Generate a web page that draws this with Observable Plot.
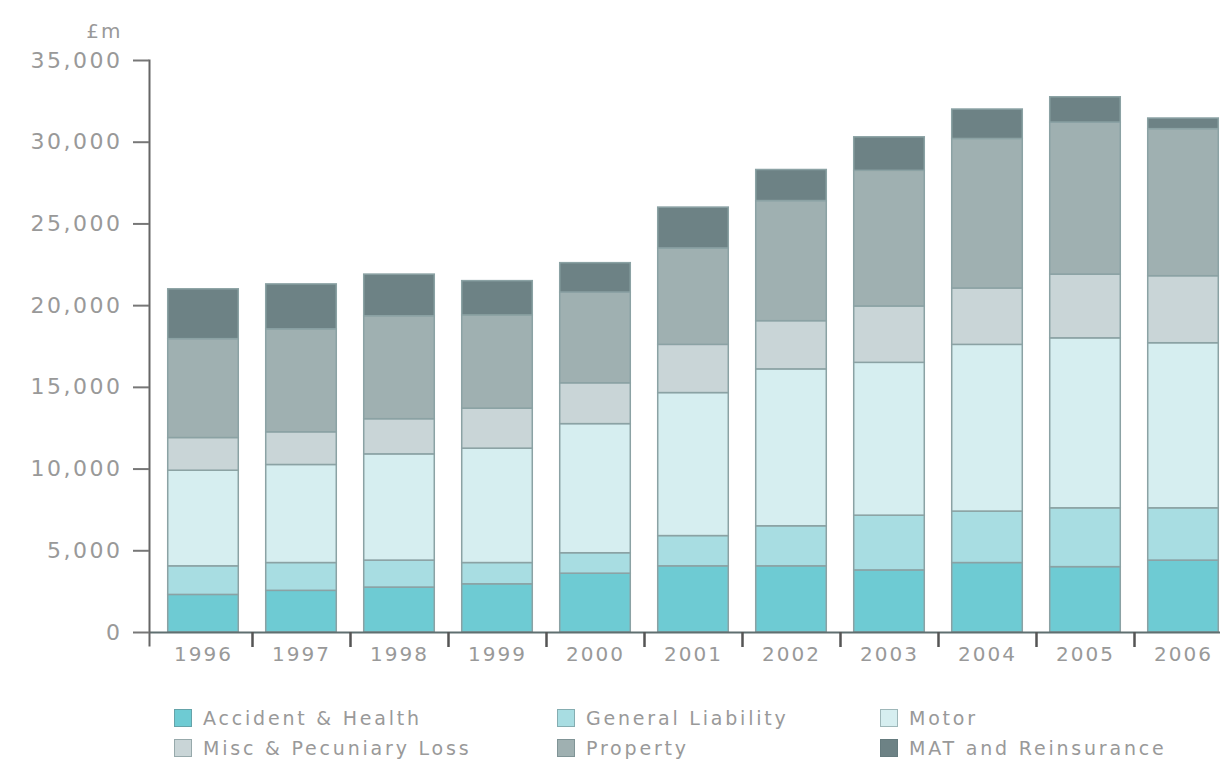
<!DOCTYPE html>
<html>
<head>
<meta charset="utf-8">
<script src="https://cdn.jsdelivr.net/npm/d3@7"></script>
<script src="https://cdn.jsdelivr.net/npm/@observablehq/plot@0.6"></script>
<style>
  html, body { margin: 0; padding: 0; background: #fff; overflow: hidden; }
  #wrap { position: relative; width: 1220px; height: 763px; }
  #wrap svg { position: absolute; left: 0; top: 0; }
  [aria-label="y-axis tick label"] text { letter-spacing: 2.5px; }
  [aria-label="x-axis tick label"] text { letter-spacing: 2px; }
  .unit text { letter-spacing: 2px; }
  .legend { position: absolute; left: 0; top: 0; width: 1220px; height: 763px; pointer-events: none;
            font-family: "DejaVu Sans", sans-serif; font-size: 19px; color: #999; letter-spacing: 2.8px; font-weight: 400; }
  .item { position: absolute; display: flex; align-items: center; height: 22px; white-space: nowrap; }
  .sw { width: 18px; height: 18px; box-sizing: border-box; border: 1.5px solid rgba(90,115,118,0.45); margin-right: 11px; flex: none; }
</style>
</head>
<body>
<div id="wrap"></div>
<script>
// ---- data (£m) ----
const years = ["1996","1997","1998","1999","2000","2001","2002","2003","2004","2005","2006"];
const seriesNames = ["Accident & Health","General Liability","Motor","Misc & Pecuniary Loss","Property","MAT and Reinsurance"];
const seriesColors = ["#6ecbd3","#a8dde2","#d6eef0","#c9d5d7","#9fb0b1","#6d8285"];
const accidentHealth   = [2300, 2550, 2750, 2950, 3600, 4050, 4050, 3800, 4250, 4000, 4400];
const generalLiability = [1750, 1700, 1650, 1300, 1250, 1850, 2450, 3350, 3150, 3600, 3200];
const motor            = [5850, 6000, 6500, 7000, 7900, 8750, 9600, 9350, 10200, 10400, 10100];
const miscPecuniary    = [2000, 2000, 2150, 2450, 2500, 2950, 2950, 3450, 3450, 3900, 4100];
const property         = [6050, 6300, 6300, 5700, 5550, 5900, 7350, 8300, 9150, 9300, 9000];
const matReinsurance   = [3050, 2750, 2550, 2100, 1800, 2500, 1900, 2050, 1800, 1550, 650];
const yTicks = [0, 5000, 10000, 15000, 20000, 25000, 30000, 35000];
const unitLabel = "£m";

const seriesValues = [accidentHealth, generalLiability, motor, miscPecuniary, property, matReinsurance];
const table = seriesNames.flatMap((s, si) => years.map((yr, i) => ({year: yr, series: s, value: seriesValues[si][i]})));

const W = 1220, H = 680, MT = 60, MB = 48;
const yMax = 35000;
const xRange = [154, 1232];
const step = (xRange[1] - xRange[0]) / years.length;
const tickLenData = 15 * yMax / (H - MT - MB);

const chart = Plot.plot({
  width: W,
  height: H,
  marginTop: MT,
  marginBottom: MB,
  marginLeft: 149,
  marginRight: 0,
  style: {fontFamily: "DejaVu Sans, sans-serif", background: "white", overflow: "hidden", fontWeight: 400},
  x: {type: "band", domain: years, range: xRange, paddingInner: 0.28, paddingOuter: 0.14, round: false, axis: null},
  y: {domain: [0, yMax], axis: null},
  color: {domain: seriesNames, range: seriesColors},
  marks: [
    Plot.barY(table, {x: "year", y: "value", fill: "series", stroke: "#8ba2a4", strokeWidth: 1.5, order: seriesNames}),
    Plot.ruleY([0], {stroke: "#5f6f70", strokeWidth: 2}),
    Plot.frame({anchor: "left", stroke: "#666", strokeWidth: 2, insetBottom: -13}),
    // boundary ticks below the axis, between categories
    Plot.ruleX(years, {x: d => d, y1: 0, y2: -tickLenData, dx: step / 2, stroke: "#555", strokeWidth: 2.5}),
    Plot.axisY({ticks: yTicks, tickSize: 16, tickPadding: 11, tickFormat: d3.format(","), fontSize: 22,
                fill: "#999", stroke: "#777", strokeWidth: 2, label: null}),
    Plot.axisX({tickSize: 0, tickPadding: 14, fontSize: 20, fill: "#999", label: null}),
    Plot.text([unitLabel], {frameAnchor: "top-left", textAnchor: "end", lineAnchor: "bottom", dx: -27, dy: -23,
                            fontSize: 20, fill: "#999", className: "unit"})
  ]
});
document.getElementById("wrap").appendChild(chart);

// ---- legend ----
const legendCols = [174, 557, 880];
const legendRows = [707, 737];
const legend = document.createElement("div");
legend.className = "legend";
seriesNames.forEach((name, i) => {
  const item = document.createElement("div");
  item.className = "item";
  item.style.left = legendCols[i % 3] + "px";
  item.style.top = legendRows[Math.floor(i / 3)] + "px";
  const sw = document.createElement("span");
  sw.className = "sw";
  sw.style.background = seriesColors[i];
  const label = document.createElement("span");
  label.textContent = name;
  item.appendChild(sw);
  item.appendChild(label);
  legend.appendChild(item);
});
document.getElementById("wrap").appendChild(legend);
</script>
</body>
</html>
